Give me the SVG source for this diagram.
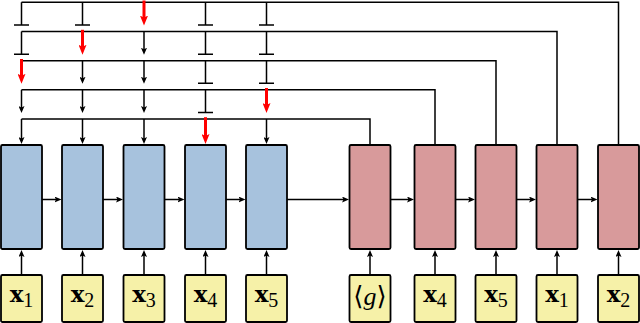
<svg xmlns="http://www.w3.org/2000/svg" width="640" height="323" viewBox="0 0 640 323">
<style>
.enc{fill:#A7C2DD;stroke:#000;stroke-width:1.8}
.dec{fill:#D89A9B;stroke:#000;stroke-width:1.8}
.inp{fill:#F6F1A8;stroke:#000;stroke-width:1.8}
.c{fill:none;stroke:#000;stroke-width:1.5}
.a{fill:none;stroke:#000;stroke-width:1.5;marker-end:url(#ab)}
.r{fill:none;stroke:#FF0000;stroke-width:3;marker-end:url(#ar)}
.lbl{font-family:"Liberation Serif","DejaVu Serif",serif;font-size:20px;fill:#000;text-anchor:middle}
.bx{font-family:"DejaVu Serif","Liberation Serif",serif;font-weight:bold;font-size:23px}
.br{font-family:"DejaVu Serif","Liberation Serif",serif;font-size:26px}
.it{font-family:"Liberation Serif","DejaVu Serif",serif;font-style:italic;font-size:26px}
</style>
<defs>
<marker id="ab" viewBox="0 0 7 6" refX="3" refY="3" markerWidth="7" markerHeight="6" markerUnits="userSpaceOnUse" orient="auto"><path d="M0,0 L7,3 L0,6 L1.5,3z" fill="#000"/></marker>
<marker id="ar" viewBox="0 0 10 8" refX="3" refY="4" markerWidth="10" markerHeight="8" markerUnits="userSpaceOnUse" orient="auto"><path d="M0,0 L10,4 L0,8 L2,4z" fill="#FF0000"/></marker>
</defs>
<g id="connectors">
<path class="c" d="M21.5,2.3 H618.5 V145"/>
<path class="c" d="M21.5,2.3 V25.1 M14,25.1 H29 M82.5,2.3 V25.1 M75,25.1 H90 M205.5,2.3 V25.1 M198,25.1 H213 M266.5,2.3 V25.1 M259,25.1 H274"/>
<path class="c" d="M21.5,31.6 H557 V145"/>
<path class="c" d="M21.5,31.6 V54.3 M14,54.3 H29 M205.5,31.6 V54.3 M198,54.3 H213 M266.5,31.6 V54.3 M259,54.3 H274"/>
<line class="a" x1="144" y1="31.6" x2="144" y2="50.8"/>
<path class="c" d="M21.5,60.8 H496 V145"/>
<path class="c" d="M205.5,60.8 V83.3 M198,83.3 H213 M266.5,60.8 V83.3 M259,83.3 H274"/>
<line class="a" x1="82.5" y1="60.8" x2="82.5" y2="79.8"/>
<line class="a" x1="144" y1="60.8" x2="144" y2="79.8"/>
<path class="c" d="M21.5,89.8 H435 V145"/>
<path class="c" d="M205.5,89.8 V112.5 M198,112.5 H213"/>
<line class="a" x1="21.5" y1="89.8" x2="21.5" y2="109"/>
<line class="a" x1="82.5" y1="89.8" x2="82.5" y2="109"/>
<line class="a" x1="144" y1="89.8" x2="144" y2="109"/>
<path class="c" d="M21.5,119 H370 V145"/>
<line class="a" x1="21.5" y1="119" x2="21.5" y2="140"/>
<line class="a" x1="82.5" y1="119" x2="82.5" y2="140"/>
<line class="a" x1="144" y1="119" x2="144" y2="140"/>
<line class="a" x1="266.5" y1="119" x2="266.5" y2="140"/>
<line class="r" x1="144" y1="0.5" x2="144" y2="18.6"/>
<line class="r" x1="82.5" y1="29.8" x2="82.5" y2="47.8"/>
<line class="r" x1="21.5" y1="59" x2="21.5" y2="76.8"/>
<line class="r" x1="266.5" y1="88" x2="266.5" y2="106"/>
<line class="r" x1="205.5" y1="117.2" x2="205.5" y2="137"/>
<line class="a" x1="42" y1="199.5" x2="57.5" y2="199.5"/>
<line class="a" x1="103" y1="199.5" x2="119" y2="199.5"/>
<line class="a" x1="164.5" y1="199.5" x2="180.5" y2="199.5"/>
<line class="a" x1="226" y1="199.5" x2="241.5" y2="199.5"/>
<line class="a" x1="287" y1="199.5" x2="345" y2="199.5"/>
<line class="a" x1="390.5" y1="199.5" x2="410" y2="199.5"/>
<line class="a" x1="455.5" y1="199.5" x2="471" y2="199.5"/>
<line class="a" x1="516.5" y1="199.5" x2="532" y2="199.5"/>
<line class="a" x1="577.5" y1="199.5" x2="593.5" y2="199.5"/>
<line class="a" x1="21.5" y1="275" x2="21.5" y2="254"/>
<line class="a" x1="82.5" y1="275" x2="82.5" y2="254"/>
<line class="a" x1="144" y1="275" x2="144" y2="254"/>
<line class="a" x1="205.5" y1="275" x2="205.5" y2="254"/>
<line class="a" x1="266.5" y1="275" x2="266.5" y2="254"/>
<line class="a" x1="370" y1="275" x2="370" y2="254"/>
<line class="a" x1="435" y1="275" x2="435" y2="254"/>
<line class="a" x1="496" y1="275" x2="496" y2="254"/>
<line class="a" x1="557" y1="275" x2="557" y2="254"/>
<line class="a" x1="618.5" y1="275" x2="618.5" y2="254"/>
</g>
<g id="enc1"><rect class="enc" x="1" y="145" width="41" height="104" rx="1.5"/></g>
<g id="enc2"><rect class="enc" x="62" y="145" width="41" height="104" rx="1.5"/></g>
<g id="enc3"><rect class="enc" x="123.5" y="145" width="41" height="104" rx="1.5"/></g>
<g id="enc4"><rect class="enc" x="185" y="145" width="41" height="104" rx="1.5"/></g>
<g id="enc5"><rect class="enc" x="246" y="145" width="41" height="104" rx="1.5"/></g>
<g id="dec1"><rect class="dec" x="349.5" y="145" width="41" height="104" rx="1.5"/></g>
<g id="dec2"><rect class="dec" x="414.5" y="145" width="41" height="104" rx="1.5"/></g>
<g id="dec3"><rect class="dec" x="475.5" y="145" width="41" height="104" rx="1.5"/></g>
<g id="dec4"><rect class="dec" x="536.5" y="145" width="41" height="104" rx="1.5"/></g>
<g id="dec5"><rect class="dec" x="598" y="145" width="41" height="104" rx="1.5"/></g>
<g id="in1"><rect class="inp" x="1" y="275" width="41" height="47" rx="1.5"/><text class="lbl" x="21.5" y="302"><tspan class="bx">x</tspan><tspan dy="5">1</tspan></text></g>
<g id="in2"><rect class="inp" x="62" y="275" width="41" height="47" rx="1.5"/><text class="lbl" x="82.5" y="302"><tspan class="bx">x</tspan><tspan dy="5">2</tspan></text></g>
<g id="in3"><rect class="inp" x="123.5" y="275" width="41" height="47" rx="1.5"/><text class="lbl" x="144" y="302"><tspan class="bx">x</tspan><tspan dy="5">3</tspan></text></g>
<g id="in4"><rect class="inp" x="185" y="275" width="41" height="47" rx="1.5"/><text class="lbl" x="205.5" y="302"><tspan class="bx">x</tspan><tspan dy="5">4</tspan></text></g>
<g id="in5"><rect class="inp" x="246" y="275" width="41" height="47" rx="1.5"/><text class="lbl" x="266.5" y="302"><tspan class="bx">x</tspan><tspan dy="5">5</tspan></text></g>
<g id="in6"><rect class="inp" x="349.5" y="275" width="41" height="47" rx="1.5"/><text class="lbl" x="370" y="305"><tspan class="br">⟨</tspan><tspan class="it">g</tspan><tspan class="br">⟩</tspan></text></g>
<g id="in7"><rect class="inp" x="414.5" y="275" width="41" height="47" rx="1.5"/><text class="lbl" x="435" y="302"><tspan class="bx">x</tspan><tspan dy="5">4</tspan></text></g>
<g id="in8"><rect class="inp" x="475.5" y="275" width="41" height="47" rx="1.5"/><text class="lbl" x="496" y="302"><tspan class="bx">x</tspan><tspan dy="5">5</tspan></text></g>
<g id="in9"><rect class="inp" x="536.5" y="275" width="41" height="47" rx="1.5"/><text class="lbl" x="557" y="302"><tspan class="bx">x</tspan><tspan dy="5">1</tspan></text></g>
<g id="in10"><rect class="inp" x="598" y="275" width="41" height="47" rx="1.5"/><text class="lbl" x="618.5" y="302"><tspan class="bx">x</tspan><tspan dy="5">2</tspan></text></g>
</svg>
